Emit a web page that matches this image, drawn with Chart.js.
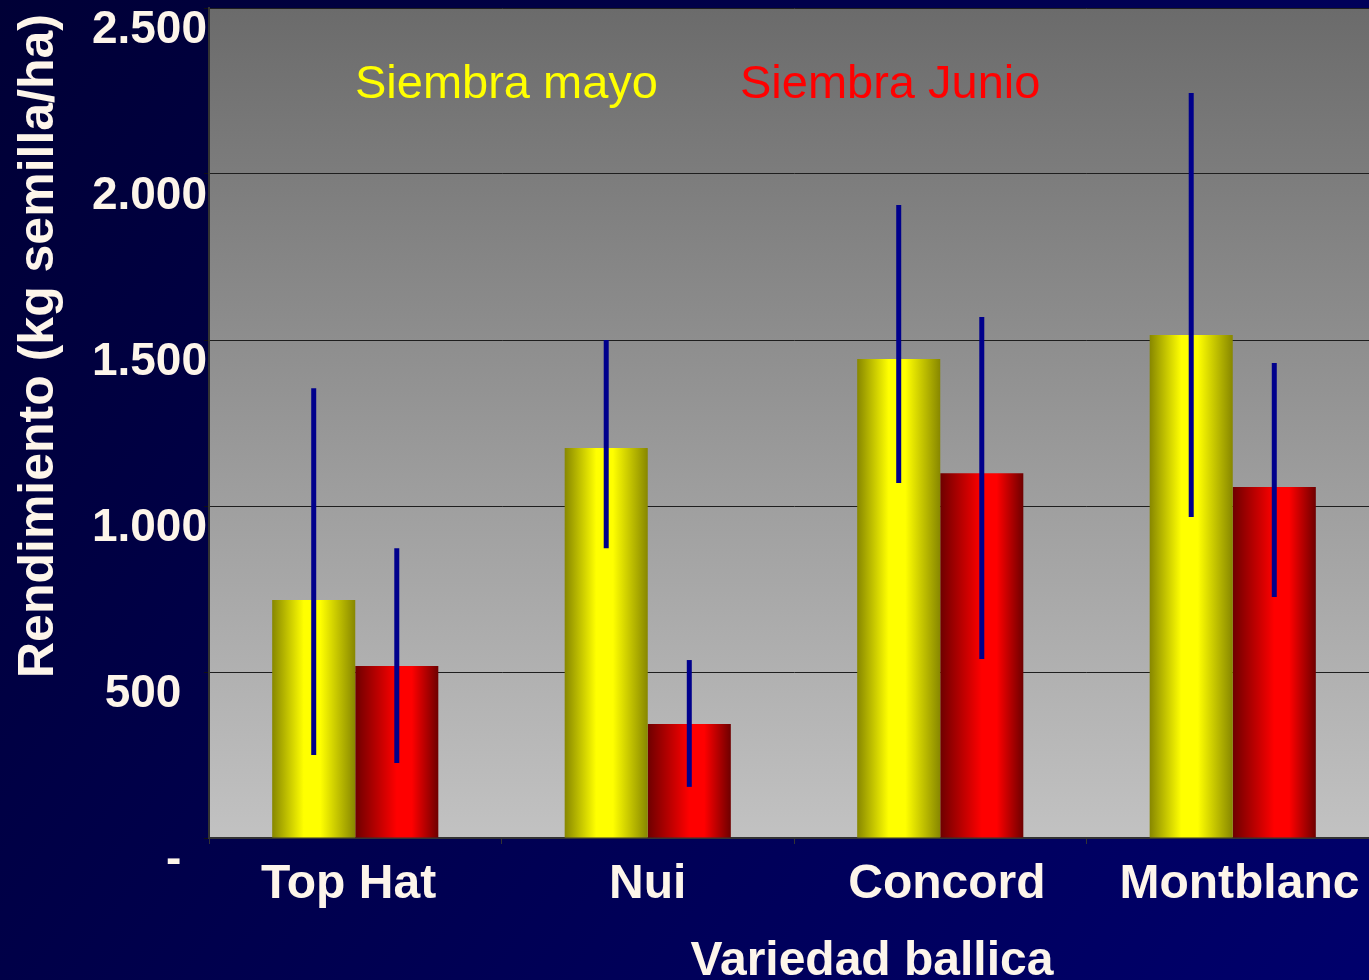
<!DOCTYPE html>
<html lang="es">
<head>
<meta charset="UTF-8">
<title>Rendimiento semilla ballica</title>
<script src="https://cdn.jsdelivr.net/npm/chart.js"></script>
<style>
  html, body { margin: 0; padding: 0; overflow: hidden; background: #000040; }
</style>
</head>
<body>
<canvas id="grafica" width="1380" height="980"></canvas>
<script>
    // datos
    const categorias = ['Top Hat', 'Nui', 'Concord', 'Montblanc'];
    const etiquetasX = ['Top Hat ', 'Nui', ' Concord', ' Montblanc'];
    const siembraMayo = [717, 1175, 1443, 1515];
    const siembraJunio = [518, 343, 1099, 1057];
    // barras de error (minimo y maximo)
    const mayoMin = [250, 873, 1069, 967];
    const mayoMax = [1355, 1500, 1907, 2244];
    const junioMin = [226, 154, 539, 726];
    const junioMax = [873, 536, 1569, 1431];
    const ticksY = [0, 500, 1000, 1500, 2000, 2500];
    // formato contable de Excel: los valores sin miles llevan espacio al final
    const etiquetasY = ['-  ', '500  ', '1.000', '1.500', '2.000', '2.500'];

    const blanco = '#fdf5ea';
    const fuente = '"Liberation Sans", Arial, sans-serif';
    const catPct = 0.568;

    const tonosAmarillo = [[0, '#878700'], [0.38, '#ffff00'], [0.58, '#ffff00'], [1, '#878700']];
    const tonosRojo = [[0, '#6e0000'], [0.5, '#ff0000'], [0.68, '#ff0000'], [1, '#6e0000']];

    function relleno(c, tonos) {
        const ch = c.chart;
        const xs = ch.scales.x;
        if (!xs || !xs.width || c.type !== 'data') return tonos[1][1];
        const anchoCat = xs.width / categorias.length;
        const anchoGrupo = anchoCat * catPct;
        const anchoBarra = anchoGrupo / 2;
        const izq = xs.getPixelForValue(c.dataIndex) - anchoGrupo / 2 + c.datasetIndex * anchoBarra;
        const g = ch.ctx.createLinearGradient(izq, 0, izq + anchoBarra, 0);
        tonos.forEach(t => g.addColorStop(t[0], t[1]));
        return g;
    }

    const fondo = {
        id: 'fondo',
        beforeDraw(chart) {
            const ctx = chart.ctx;
            const a = chart.chartArea;
            ctx.save();
            const g = ctx.createLinearGradient(0, 0, chart.width, chart.height);
            g.addColorStop(0, '#000036');
            g.addColorStop(1, '#00006c');
            ctx.fillStyle = g;
            ctx.fillRect(0, 0, chart.width, chart.height);
            const gp = ctx.createLinearGradient(0, a.top, 0, a.bottom);
            gp.addColorStop(0, '#6b6b6b');
            gp.addColorStop(1, '#c2c2c2');
            ctx.fillStyle = gp;
            ctx.fillRect(a.left, a.top, a.right - a.left, a.bottom - a.top);
            ctx.restore();
        }
    };

    const errores = {
        id: 'errores',
        afterDatasetsDraw(chart) {
            const ctx = chart.ctx;
            const y = chart.scales.y;
            const rangos = [[mayoMin, mayoMax], [junioMin, junioMax]];
            ctx.save();
            ctx.strokeStyle = '#00008c';
            ctx.lineWidth = 5;
            rangos.forEach((r, d) => {
                chart.getDatasetMeta(d).data.forEach((bar, i) => {
                    ctx.beginPath();
                    ctx.moveTo(bar.x, y.getPixelForValue(r[0][i]));
                    ctx.lineTo(bar.x, y.getPixelForValue(r[1][i]));
                    ctx.stroke();
                });
            });
            // leyenda dentro del area del grafico
            ctx.font = '47px ' + fuente;
            ctx.textBaseline = 'alphabetic';
            ctx.textAlign = 'left';
            ctx.fillStyle = '#ffff00';
            ctx.fillText('Siembra mayo', 355, 98);
            ctx.fillStyle = '#ff0000';
            ctx.fillText('Siembra Junio', 740, 98);
            ctx.restore();
        }
    };

    const titulos = {
        id: 'titulos',
        afterDraw(chart) {
            const ctx = chart.ctx;
            ctx.save();
            ctx.fillStyle = blanco;
            ctx.font = 'bold 48px ' + fuente;
            ctx.textAlign = 'center';
            ctx.textBaseline = 'alphabetic';
            ctx.fillText('Variedad ballica', 872, 975);
            ctx.translate(53, 346);
            ctx.rotate(-Math.PI / 2);
            ctx.font = 'bold 50px ' + fuente;
            ctx.fillText('Rendimiento (kg semilla/ha)', 0, 0);
            ctx.restore();
        }
    };

    new Chart(document.querySelector('#grafica'), {
        type: 'bar',
        data: {
            labels: categorias,
            datasets: [
                { label: 'Siembra mayo', data: siembraMayo, backgroundColor: c => relleno(c, tonosAmarillo) },
                { label: 'Siembra Junio', data: siembraJunio, backgroundColor: c => relleno(c, tonosRojo) }
            ]
        },
        options: {
            responsive: false,
            animation: false,
            layout: { padding: { top: 8, right: 1, left: 0, bottom: 0 } },
            datasets: { bar: { categoryPercentage: catPct, barPercentage: 1 } },
            plugins: { legend: { display: false }, tooltip: { enabled: false } },
            scales: {
                x: {
                    afterFit: s => { s.height = 142; s.paddingLeft = 0; s.paddingRight = 0; },
                    grid: { offset: true, drawOnChartArea: false, tickLength: 6, color: '#333' },
                    border: { color: '#333', width: 2 },
                    ticks: {
                        color: blanco, font: { family: fuente, size: 48, weight: 'bold' }, padding: 12, maxRotation: 0,
                        callback: (v, i) => etiquetasX[i]
                    }
                },
                y: {
                    min: 0,
                    max: 2500,
                    afterFit: s => { s.width = 209; s.paddingTop = 0; s.paddingBottom = 0; },
                    afterBuildTicks: s => { s.ticks = ticksY.map(v => ({ value: v })); },
                    grid: { color: '#1e1e1e', lineWidth: 1, tickLength: 5, tickColor: '#111' },
                    border: { color: '#333', width: 2 },
                    ticks: {
                        color: blanco,
                        padding: -3,
                        font: { family: fuente, size: 46, weight: 'bold', lineHeight: 0.98 },
                        // linea vacia para bajar la etiqueta bajo la linea de grilla
                        callback: (v, i) => ['', etiquetasY[i]]
                    }
                }
            }
        },
        plugins: [fondo, errores, titulos]
    });
</script>
</body>
</html>
